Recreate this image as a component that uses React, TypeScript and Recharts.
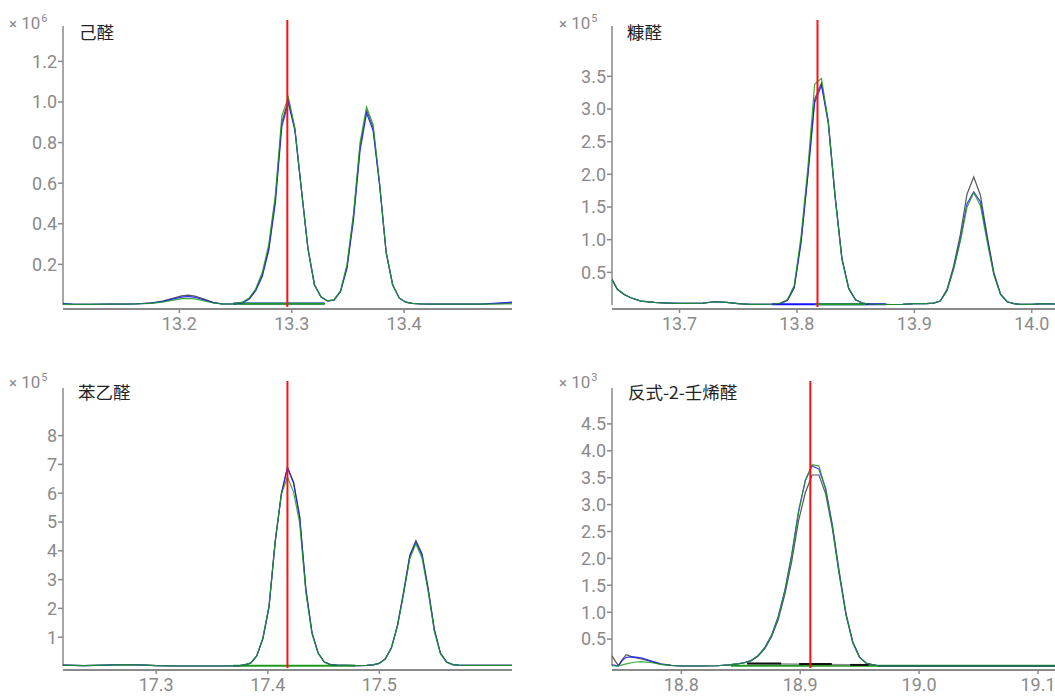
import React from 'react';
import { LineChart, Line, XAxis, YAxis, ReferenceLine } from 'recharts';

// ---------- Panel 1: 己醛 (×10^6) ----------
const p1Time = [13.0965, 13.105, 13.12, 13.14, 13.16, 13.175, 13.185, 13.195, 13.202, 13.208, 13.214, 13.222, 13.23, 13.238, 13.246, 13.2506, 13.2564, 13.2622, 13.268, 13.2738, 13.2796, 13.2854, 13.2912, 13.297, 13.3028, 13.3086, 13.3144, 13.3202, 13.326, 13.3318, 13.3376, 13.3434, 13.3492, 13.355, 13.3608, 13.3666, 13.3724, 13.3782, 13.384, 13.3898, 13.3956, 13.4014, 13.4072, 13.415, 13.425, 13.44, 13.455, 13.47, 13.485, 13.496];
const p1Green = [0.004, 0.003, 0.003, 0.004, 0.005, 0.008, 0.014, 0.024, 0.031, 0.033, 0.03, 0.02, 0.01, 0.005, 0.005, 0.008, 0.014, 0.035, 0.08, 0.16, 0.3, 0.54, 0.93, 1.025, 0.87, 0.57, 0.28, 0.1, 0.04, 0.02, 0.025, 0.07, 0.2, 0.45, 0.8, 0.975, 0.89, 0.6, 0.26, 0.1, 0.035, 0.014, 0.008, 0.005, 0.004, 0.005, 0.004, 0.004, 0.005, 0.006];
const p1Blue = [0.008, 0.004, 0.003, 0.004, 0.005, 0.009, 0.017, 0.03, 0.039, 0.042, 0.038, 0.025, 0.012, 0.005, 0.005, 0.007, 0.012, 0.03, 0.07, 0.14, 0.27, 0.5, 0.88, 0.995, 0.86, 0.57, 0.28, 0.1, 0.04, 0.02, 0.024, 0.065, 0.18, 0.42, 0.76, 0.945, 0.86, 0.59, 0.26, 0.1, 0.035, 0.014, 0.008, 0.005, 0.004, 0.005, 0.004, 0.005, 0.01, 0.014];
const p1Black = [0.005, 0.003, 0.003, 0.004, 0.005, 0.01, 0.019, 0.034, 0.045, 0.049, 0.044, 0.029, 0.013, 0.006, 0.005, 0.007, 0.013, 0.032, 0.075, 0.15, 0.28, 0.52, 0.9, 1.01, 0.87, 0.57, 0.28, 0.1, 0.04, 0.02, 0.024, 0.068, 0.19, 0.44, 0.78, 0.96, 0.875, 0.595, 0.26, 0.1, 0.035, 0.014, 0.008, 0.005, 0.004, 0.005, 0.004, 0.004, 0.007, 0.01];
const p1BaseTime = [13.2481, 13.3293];
const p1BaseBlue = [0.008, 0.008];
const p1BaseGreen = [0.006, 0.006];
const p1XTicks = [13.2, 13.3, 13.4];
const p1YTicks = [0.2, 0.4, 0.6, 0.8, 1.0, 1.2];
const p1Rt = 13.2961;

// ---------- Panel 2: 糠醛 (×10^5) ----------
const p2Time = [13.6425, 13.6471, 13.6529, 13.6586, 13.6671, 13.6786, 13.69, 13.7, 13.71, 13.72, 13.73, 13.74, 13.75, 13.76, 13.77, 13.7803, 13.7861, 13.7919, 13.7977, 13.8035, 13.8093, 13.8151, 13.8209, 13.8267, 13.8325, 13.8383, 13.8441, 13.8499, 13.8557, 13.8615, 13.87, 13.88, 13.89, 13.9, 13.91, 13.9164, 13.9221, 13.9278, 13.9335, 13.9392, 13.9449, 13.9506, 13.9563, 13.962, 13.9677, 13.9734, 13.9791, 13.9848, 13.99, 14.0, 14.01, 14.0198];
const p2Green = [0.39, 0.24, 0.16, 0.11, 0.06, 0.04, 0.03, 0.025, 0.025, 0.03, 0.05, 0.04, 0.02, 0.01, 0.01, 0.015, 0.03, 0.08, 0.3, 1.05, 2.1, 3.38, 3.47, 2.8, 1.65, 0.7, 0.25, 0.08, 0.03, 0.015, 0.01, 0.008, 0.01, 0.02, 0.02, 0.03, 0.06, 0.22, 0.55, 0.98, 1.5, 1.72, 1.52, 0.97, 0.46, 0.16, 0.05, 0.02, 0.01, 0.01, 0.02, 0.015];
const p2Blue = [0.39, 0.24, 0.16, 0.11, 0.06, 0.04, 0.03, 0.025, 0.025, 0.03, 0.05, 0.04, 0.02, 0.01, 0.01, 0.015, 0.025, 0.07, 0.26, 0.95, 1.98, 3.1, 3.36, 2.78, 1.66, 0.71, 0.25, 0.08, 0.03, 0.015, 0.01, 0.008, 0.01, 0.02, 0.02, 0.03, 0.06, 0.22, 0.56, 1.0, 1.55, 1.73, 1.58, 1.02, 0.48, 0.16, 0.05, 0.02, 0.01, 0.01, 0.02, 0.015];
const p2Black = [0.39, 0.24, 0.16, 0.11, 0.06, 0.04, 0.03, 0.025, 0.025, 0.03, 0.05, 0.04, 0.02, 0.01, 0.01, 0.015, 0.025, 0.075, 0.28, 0.98, 2.0, 3.15, 3.4, 2.82, 1.68, 0.72, 0.26, 0.08, 0.03, 0.015, 0.01, 0.008, 0.01, 0.02, 0.02, 0.03, 0.06, 0.24, 0.6, 1.08, 1.7, 1.96, 1.68, 1.06, 0.5, 0.17, 0.05, 0.02, 0.01, 0.01, 0.02, 0.015];
const p2BaseBlueTime = [13.7786, 13.876];
const p2BaseBlue = [0.01, 0.01];
const p2BaseGreenTime = [13.8157, 13.8586];
const p2BaseGreen = [0.012, 0.012];
const p2XTicks = [13.7, 13.8, 13.9, 14.0];
const p2YTicks = [0.5, 1.0, 1.5, 2.0, 2.5, 3.0, 3.5];
const p2Rt = 13.8175;

// ---------- Panel 3: 苯乙醛 (×10^5) ----------
const p3Time = [17.2165, 17.235, 17.255, 17.27, 17.285, 17.3, 17.32, 17.34, 17.36, 17.375, 17.3791, 17.3846, 17.3901, 17.3956, 17.4011, 17.4066, 17.4121, 17.4176, 17.4231, 17.4286, 17.4341, 17.4396, 17.4451, 17.4506, 17.4561, 17.4616, 17.47, 17.48, 17.4887, 17.4942, 17.4997, 17.5052, 17.5107, 17.5162, 17.5217, 17.5272, 17.5327, 17.5382, 17.5437, 17.5492, 17.5547, 17.5602, 17.5657, 17.5712, 17.58, 17.59, 17.6, 17.6188];
const p3Blue = [0.03, 0.01, 0.03, 0.05, 0.04, 0.01, 0.0, 0.0, 0.0, 0.01, 0.04, 0.1, 0.35, 0.95, 2.05, 4.3, 5.95, 6.88, 6.35, 5.15, 2.65, 1.15, 0.45, 0.14, 0.05, 0.03, 0.02, 0.01, 0.02, 0.04, 0.09, 0.24, 0.62, 1.4, 2.55, 3.8, 4.3, 3.85, 2.65, 1.25, 0.44, 0.14, 0.05, 0.03, 0.02, 0.02, 0.02, 0.02];
const p3Green = [0.03, 0.01, 0.03, 0.05, 0.04, 0.01, 0.0, 0.0, 0.0, 0.01, 0.04, 0.1, 0.36, 0.98, 2.1, 4.35, 5.95, 6.56, 6.04, 4.95, 2.55, 1.12, 0.44, 0.14, 0.05, 0.03, 0.02, 0.01, 0.02, 0.04, 0.09, 0.24, 0.62, 1.38, 2.5, 3.72, 4.24, 3.75, 2.58, 1.2, 0.42, 0.13, 0.05, 0.03, 0.02, 0.02, 0.02, 0.02];
const p3Black = [0.03, 0.01, 0.03, 0.05, 0.04, 0.01, 0.0, 0.0, 0.0, 0.01, 0.04, 0.1, 0.35, 0.95, 2.05, 4.3, 5.98, 6.9, 6.38, 5.18, 2.68, 1.16, 0.45, 0.14, 0.05, 0.03, 0.02, 0.01, 0.02, 0.04, 0.09, 0.24, 0.63, 1.42, 2.58, 3.85, 4.36, 3.9, 2.7, 1.28, 0.45, 0.14, 0.05, 0.03, 0.02, 0.02, 0.02, 0.02];
const p3BaseTime = [17.3691, 17.4782];
const p3BaseGreen = [0.005, 0.005];
const p3XTicks = [17.3, 17.4, 17.5];
const p3YTicks = [1, 2, 3, 4, 5, 6, 7, 8];
const p3Rt = 17.4176;

// ---------- Panel 4: 反式-2-壬烯醛 (×10^3) ----------
const p4Time = [18.7417, 18.7445, 18.747, 18.7503, 18.7536, 18.76, 18.7664, 18.775, 18.783, 18.7915, 18.8, 18.815, 18.83, 18.84, 18.8473, 18.853, 18.8587, 18.8644, 18.8701, 18.8758, 18.8815, 18.8872, 18.8929, 18.8986, 18.9043, 18.91, 18.9157, 18.9214, 18.9271, 18.9328, 18.9385, 18.9442, 18.9499, 18.9556, 18.9613, 18.967, 18.975, 18.99, 19.01, 19.03, 19.05, 19.07, 19.09, 19.1143];
const p4Green = [0.0, 0.0, 0.0, 0.02, 0.04, 0.07, 0.08, 0.06, 0.03, 0.01, 0.0, 0.0, 0.005, 0.02, 0.04, 0.06, 0.1, 0.19, 0.33, 0.56, 0.9, 1.4, 2.05, 2.85, 3.45, 3.74, 3.72, 3.28, 2.58, 1.72, 0.96, 0.44, 0.16, 0.05, 0.02, 0.0, 0.0, 0.0, 0.0, 0.0, 0.0, 0.0, 0.0, 0.0];
const p4Blue = [0.02, 0.01, 0.0, 0.1, 0.16, 0.17, 0.15, 0.09, 0.04, 0.01, 0.0, 0.0, 0.005, 0.02, 0.04, 0.06, 0.1, 0.19, 0.34, 0.57, 0.92, 1.42, 2.08, 2.88, 3.45, 3.72, 3.66, 3.3, 2.62, 1.76, 0.98, 0.45, 0.17, 0.05, 0.02, 0.0, 0.0, 0.0, 0.0, 0.0, 0.0, 0.0, 0.0, 0.0];
const p4Black = [0.19, 0.09, 0.01, 0.12, 0.21, 0.16, 0.13, 0.08, 0.03, 0.01, 0.0, 0.0, 0.005, 0.02, 0.04, 0.06, 0.1, 0.18, 0.32, 0.54, 0.86, 1.34, 1.95, 2.7, 3.22, 3.55, 3.55, 3.2, 2.55, 1.7, 0.95, 0.43, 0.16, 0.05, 0.02, 0.0, 0.0, 0.0, 0.0, 0.0, 0.0, 0.0, 0.0, 0.0];
const p4BaseATime = [18.8554, 18.884];
const p4BaseA = [0.045, 0.045];
const p4BaseBTime = [18.8991, 18.9266];
const p4BaseB = [0.035, 0.035];
const p4BaseCTime = [18.942, 18.958];
const p4BaseC = [0.02, 0.02];
const p4BaseGreyTime = [18.8554, 18.958];
const p4BaseGrey = [0.045, 0.018];
const p4BaseGreenTime = [18.8417, 19.1143];
const p4BaseGreen = [0.003, 0.003];
const p4XTicks = [18.8, 18.9, 19.0, 19.1];
const p4YTicks = [0.5, 1.0, 1.5, 2.0, 2.5, 3.0, 3.5, 4.0, 4.5];
const p4Rt = 18.9085;

// ---------- styling ----------
const AXIS = '#8a8a8a';
const BLUE = '#1414ff';
const GREEN = '#1f9a1f';
const DARK = '#3a3a3a';
const RED = '#ff1010';

type Series = { t: number[]; v: number[]; color: string; width: number; opacity?: number };

const pts = (t: number[], v: number[]) => t.map((x, i) => ({ t: x, v: v[i] }));

type PanelProps = {
  left: number;
  top: number;
  width: number;
  height: number;
  marginTop: number;
  xAxisHeight: number;
  xDomain: [number, number];
  yDomain: [number, number];
  yAxisTop: number;
  xTicks: number[];
  yTicks: number[];
  yFmt: (v: number) => string;
  rt: number;
  rtBottom: number;
  series: Series[];
};

function Panel(p: PanelProps) {
  return (
    <div style={{ position: 'absolute', left: p.left, top: p.top }}>
      <LineChart
        width={p.width}
        height={p.height}
        margin={{ top: p.marginTop, right: 0, bottom: 0, left: 0 }}
      >
        <XAxis
          type="number"
          dataKey="t"
          domain={p.xDomain}
          allowDataOverflow
          ticks={p.xTicks}
          interval={0}
          tickFormatter={(v: number) => v.toFixed(1)}
          height={p.xAxisHeight}
          axisLine={{ stroke: AXIS, strokeWidth: 2 }}
          tickLine={{ stroke: AXIS, strokeWidth: 1.5 }}
          tickSize={4}
          tickMargin={4}
          tick={{ fill: AXIS, fontSize: 18, fontFamily: 'Roboto' }}
        />
        <YAxis
          type="number"
          domain={p.yDomain}
          allowDataOverflow
          ticks={p.yTicks}
          interval={0}
          tickFormatter={p.yFmt}
          width={63}
          axisLine={false}
          tickLine={{ stroke: AXIS, strokeWidth: 1.5 }}
          tickSize={5}
          tickMargin={1}
          tick={{ fill: AXIS, fontSize: 18, fontFamily: 'Roboto' }}
        />
        <ReferenceLine
          segment={[
            { x: p.xDomain[0], y: 0 },
            { x: p.xDomain[0], y: p.yAxisTop },
          ]}
          stroke={AXIS}
          strokeWidth={1.5}
          ifOverflow="visible"
        />
        {p.series.map((s, i) => (
          <Line
            key={i}
            data={pts(s.t, s.v)}
            dataKey="v"
            type="linear"
            stroke={s.color}
            strokeWidth={s.width}
            strokeOpacity={s.opacity ?? 0.85}
            dot={false}
            activeDot={false}
            isAnimationActive={false}
          />
        ))}
        <ReferenceLine
          segment={[
            { x: p.rt, y: p.rtBottom },
            { x: p.rt, y: p.yDomain[1] },
          ]}
          stroke={RED}
          strokeWidth={2}
          ifOverflow="visible"
        />
      </LineChart>
    </div>
  );
}

function Title({ left, top, text }: { left: number; top: number; text: string }) {
  return (
    <div
      style={{
        position: 'absolute',
        left,
        top,
        fontFamily: '"Noto Sans CJK SC", "Noto Sans", sans-serif',
        fontSize: 17.5,
        lineHeight: '20px',
        color: '#222',
        whiteSpace: 'nowrap',
      }}
    >
      {text}
    </div>
  );
}

function Exponent({ left, top, exp }: { left: number; top: number; exp: string }) {
  return (
    <div
      style={{
        position: 'absolute',
        left,
        top,
        fontFamily: 'Roboto, sans-serif',
        fontSize: 17,
        lineHeight: '18px',
        color: AXIS,
        whiteSpace: 'nowrap',
      }}
    >
      <span style={{ fontSize: 15 }}>×</span> 10
      <span style={{ fontSize: 11, position: 'relative', top: -7, marginLeft: 1 }}>{exp}</span>
    </div>
  );
}

const f1 = (v: number) => v.toFixed(1);
const f0 = (v: number) => String(v);

export default function App() {
  return (
    <div
      style={{
        position: 'absolute',
        left: 0,
        top: 0,
        width: 1055,
        height: 696,
        overflow: 'hidden',
        background: '#fff',
      }}
    >
      <Panel
        left={0}
        top={0}
        width={512}
        height={348}
        marginTop={20}
        xAxisHeight={39}
        xDomain={[13.0965, 13.496]}
        yDomain={[-0.0197, 1.4039]}
        yAxisTop={1.3744}
        xTicks={p1XTicks}
        yTicks={p1YTicks}
        yFmt={f1}
        rt={p1Rt}
        rtBottom={-0.0099}
        series={[
          { t: p1BaseTime, v: p1BaseBlue, color: BLUE, width: 2, opacity: 1 },
          { t: p1BaseTime, v: p1BaseGreen, color: GREEN, width: 2, opacity: 1 },
          { t: p1Time, v: p1Black, color: DARK, width: 1.2 },
          { t: p1Time, v: p1Blue, color: BLUE, width: 1.2 },
          { t: p1Time, v: p1Green, color: GREEN, width: 1.2 },
        ]}
      />
      <Panel
        left={549}
        top={0}
        width={506}
        height={348}
        marginTop={20}
        xAxisHeight={39}
        xDomain={[13.6425, 14.0198]}
        yDomain={[-0.0612, 4.3625]}
        yAxisTop={4.2706}
        xTicks={p2XTicks}
        yTicks={p2YTicks}
        yFmt={f1}
        rt={p2Rt}
        rtBottom={-0.0306}
        series={[
          { t: p2BaseBlueTime, v: p2BaseBlue, color: BLUE, width: 2, opacity: 1 },
          { t: p2BaseGreenTime, v: p2BaseGreen, color: GREEN, width: 2, opacity: 1 },
          { t: p2Time, v: p2Black, color: DARK, width: 1.2 },
          { t: p2Time, v: p2Blue, color: BLUE, width: 1.2 },
          { t: p2Time, v: p2Green, color: GREEN, width: 1.2 },
        ]}
      />
      <Panel
        left={0}
        top={361}
        width={512}
        height={347}
        marginTop={20}
        xAxisHeight={38}
        xDomain={[17.2165, 17.6188]}
        yDomain={[-0.1389, 9.896]}
        yAxisTop={9.653}
        xTicks={p3XTicks}
        yTicks={p3YTicks}
        yFmt={f0}
        rt={p3Rt}
        rtBottom={-0.069}
        series={[
          { t: p3BaseTime, v: p3BaseGreen, color: GREEN, width: 2, opacity: 1 },
          { t: p3Time, v: p3Black, color: DARK, width: 1.2 },
          { t: p3Time, v: p3Blue, color: BLUE, width: 1.2 },
          { t: p3Time, v: p3Green, color: GREEN, width: 1.2 },
        ]}
      />
      <Panel
        left={549}
        top={361}
        width={506}
        height={347}
        marginTop={20}
        xAxisHeight={38}
        xDomain={[18.7417, 19.1143]}
        yDomain={[-0.0743, 5.297]}
        yAxisTop={5.167}
        xTicks={p4XTicks}
        yTicks={p4YTicks}
        yFmt={f1}
        rt={p4Rt}
        rtBottom={-0.037}
        series={[
          { t: p4BaseGreenTime, v: p4BaseGreen, color: GREEN, width: 2, opacity: 1 },
          { t: p4BaseGreyTime, v: p4BaseGrey, color: '#8c8c8c', width: 1.5, opacity: 1 },
          { t: p4BaseATime, v: p4BaseA, color: '#111', width: 2, opacity: 1 },
          { t: p4BaseBTime, v: p4BaseB, color: '#111', width: 2, opacity: 1 },
          { t: p4BaseCTime, v: p4BaseC, color: '#111', width: 2, opacity: 1 },
          { t: p4Time, v: p4Black, color: DARK, width: 1.2 },
          { t: p4Time, v: p4Blue, color: BLUE, width: 1.2 },
          { t: p4Time, v: p4Green, color: GREEN, width: 1.2 },
        ]}
      />
      <Title left={79} top={22} text="己醛" />
      <Title left={627} top={22} text="糠醛" />
      <Title left={78} top={382} text="苯乙醛" />
      <Title left={628} top={382} text="反式-2-壬烯醛" />
      <Exponent left={9} top={14} exp="6" />
      <Exponent left={559} top={14} exp="5" />
      <Exponent left={9} top={373} exp="5" />
      <Exponent left={559} top={373} exp="3" />
    </div>
  );
}
